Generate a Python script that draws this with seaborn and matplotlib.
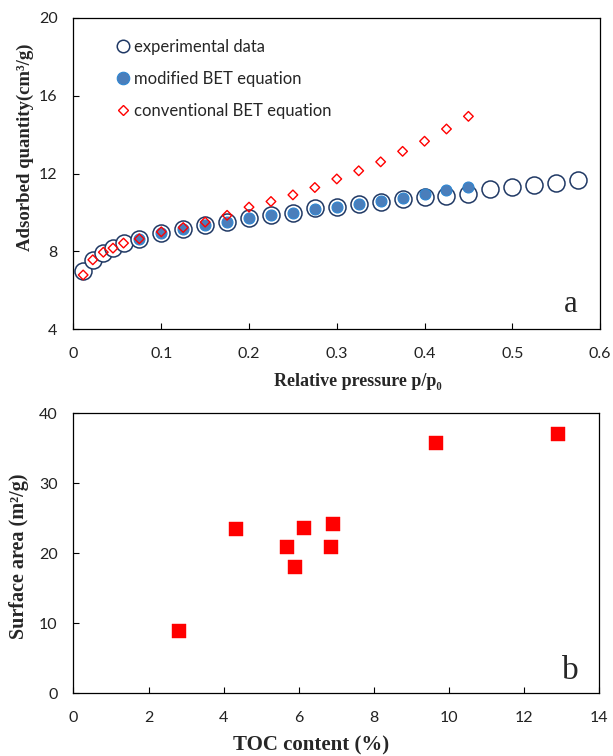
import matplotlib
matplotlib.use("Agg")
import matplotlib.pyplot as plt
from matplotlib.lines import Line2D
import seaborn as sns
import pandas as pd

# ---- data panel a ----
p_exp = [0.011, 0.022, 0.034, 0.045, 0.057, 0.075, 0.1, 0.125, 0.15, 0.175, 0.2, 0.225,
         0.25, 0.275, 0.3, 0.325, 0.35, 0.375, 0.4, 0.425, 0.45, 0.475, 0.5, 0.525, 0.55, 0.575]
q_exp = [7.0, 7.56, 7.9, 8.16, 8.42, 8.64, 8.93, 9.15, 9.36, 9.48, 9.7, 9.86,
         9.96, 10.2, 10.27, 10.44, 10.53, 10.7, 10.79, 10.82, 10.96, 11.2, 11.28, 11.42, 11.5, 11.64]
p_mod = [0.075, 0.1, 0.125, 0.15, 0.175, 0.2, 0.225, 0.25, 0.275, 0.3, 0.325, 0.35, 0.375, 0.4, 0.425, 0.45]
q_mod = [8.64, 8.93, 9.15, 9.36, 9.5, 9.7, 9.85, 9.96, 10.15, 10.3, 10.45, 10.6, 10.74, 10.94, 11.13, 11.3]
p_conv = [0.011, 0.022, 0.034, 0.045, 0.057, 0.075, 0.1, 0.125, 0.15, 0.175, 0.2, 0.225,
          0.25, 0.275, 0.3, 0.325, 0.35, 0.375, 0.4, 0.425, 0.45]
q_conv = [6.78, 7.56, 7.95, 8.16, 8.42, 8.64, 9.0, 9.22, 9.5, 9.85, 10.27, 10.56,
          10.9, 11.28, 11.72, 12.14, 12.6, 13.14, 13.66, 14.29, 14.94]
legend_labels = ["experimental data", "modified BET equation", "conventional BET equation"]

# ---- data panel b ----
toc = [2.81, 4.32, 5.68, 5.89, 6.14, 6.87, 6.92, 9.65, 12.9]
area = [8.9, 23.4, 20.8, 18.0, 23.6, 20.8, 24.1, 35.7, 37.0]

xticks_a = [0, 0.1, 0.2, 0.3, 0.4, 0.5, 0.6]
xticklabels_a = ["0", "0.1", "0.2", "0.3", "0.4", "0.5", "0.6"]
yticks_a = [4, 8, 12, 16, 20]
xticks_b = [0, 2, 4, 6, 8, 10, 12, 14]
yticks_b = [0, 10, 20, 30, 40]

sns.set_style("ticks")
plt.rcParams["font.family"] = ["Lato", "DejaVu Sans"]
plt.rcParams["axes.linewidth"] = 0.9

fig = plt.figure(figsize=(6.13, 7.56), dpi=100)
ax1 = fig.add_axes([0.1199, 0.5648, 0.859, 0.4114])
ax2 = fig.add_axes([0.1199, 0.0833, 0.8573, 0.3704])

navy = "#1F3864"
fillblue = "#4A7EBB"
edgeblue = "#2E86D1"
red = "#FF0000"

df_exp = pd.DataFrame({"p": p_exp, "q": q_exp})
df_mod = pd.DataFrame({"p": p_mod, "q": q_mod})
df_conv = pd.DataFrame({"p": p_conv, "q": q_conv})
df_b = pd.DataFrame({"toc": toc, "area": area})

sns.scatterplot(data=df_exp, x="p", y="q", ax=ax1, marker="o", s=150,
                facecolor="white", edgecolor=navy, linewidth=1.1, zorder=2)
sns.scatterplot(data=df_mod, x="p", y="q", ax=ax1, marker="o", s=62,
                color=fillblue, edgecolor=edgeblue, linewidth=0.8, zorder=3)
sns.scatterplot(data=df_conv, x="p", y="q", ax=ax1, marker="D", s=24,
                facecolor="none", edgecolor=red, linewidth=1.0, zorder=4)

ax1.set_xlim(0, 0.6)
ax1.set_ylim(4, 20)
ax1.set_xticks(xticks_a)
ax1.set_xticklabels(xticklabels_a)
ax1.set_yticks(yticks_a)

serif = ["Liberation Serif", "DejaVu Serif"]
ax1.set_xlabel("Relative pressure p/p₀", family=serif, fontweight="bold", fontsize=13)
ax1.set_ylabel("Adsorbed quantity(cm³/g)", family=serif, fontweight="bold", fontsize=13.5)
ax1.xaxis.set_label_coords(0.54, -0.14)
ax1.yaxis.set_label_coords(-0.075, 0.585)
ax1.text(0.945, 0.055, "a", transform=ax1.transAxes, family=serif, fontsize=22,
         ha="center", va="baseline")

handles = [
    Line2D([], [], ls="none", marker="o", ms=9, mfc="white", mec=navy, mew=1.1),
    Line2D([], [], ls="none", marker="o", ms=9, mfc=fillblue, mec=edgeblue, mew=0.8),
    Line2D([], [], ls="none", marker="D", ms=5.5, mfc="none", mec=red, mew=1.0),
]
ax1.legend(handles, legend_labels, loc="upper left", bbox_to_anchor=(0.062, 0.955),
           frameon=False, fontsize=12, handletextpad=0.05, labelspacing=0.98,
           handlelength=1.2, borderaxespad=0)

sns.scatterplot(data=df_b, x="toc", y="area", ax=ax2, marker="s", s=110,
                color=red, edgecolor=red, linewidth=0.3)
ax2.set_xlim(0, 14)
ax2.set_ylim(0, 40)
ax2.set_xticks(xticks_b)
ax2.set_yticks(yticks_b)
ax2.set_xlabel("TOC content (%)", family=serif, fontweight="bold", fontsize=15)
ax2.set_ylabel("Surface area (m²/g)", family=serif, fontweight="bold", fontsize=14.5)
ax2.xaxis.set_label_coords(0.452, -0.15)
ax2.yaxis.set_label_coords(-0.085, 0.49)
ax2.text(0.945, 0.05, "b", transform=ax2.transAxes, family=serif, fontsize=24,
         ha="center", va="baseline")

for ax in (ax1, ax2):
    for sp in ax.spines.values():
        sp.set_visible(True)
        sp.set_color("black")
        sp.set_linewidth(0.9)
    ax.tick_params(direction="in", length=4, width=0.8, labelsize=11.5,
                   colors="black")
    ax.tick_params(axis="x", pad=13)
    ax.tick_params(axis="y", pad=11.5)
    for lab in ax.get_xticklabels() + ax.get_yticklabels():
        lab.set_color("#222222")

fig.savefig("out.png", dpi=100)
